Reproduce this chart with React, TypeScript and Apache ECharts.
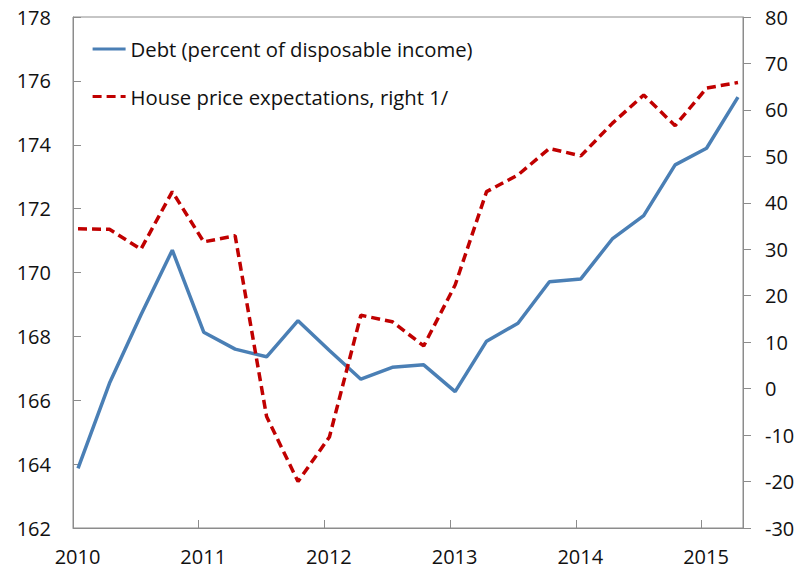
import React, { useEffect, useRef } from "react";
import * as echarts from "echarts";

const quarters = [
  "2010Q1","2010Q2","2010Q3","2010Q4",
  "2011Q1","2011Q2","2011Q3","2011Q4",
  "2012Q1","2012Q2","2012Q3","2012Q4",
  "2013Q1","2013Q2","2013Q3","2013Q4",
  "2014Q1","2014Q2","2014Q3","2014Q4",
  "2015Q1","2015Q2",
];
const debt = [
  163.87, 166.53, 168.67, 170.7,
  168.13, 167.6, 167.36, 168.49,
  167.56, 166.66, 167.03, 167.11,
  166.27, 167.85, 168.41, 169.71,
  169.8, 171.05, 171.78, 173.37,
  173.89, 175.49,
];
const housePrice = [
  34.4, 34.3, 30.0, 42.4,
  31.6, 32.9, -6.0, -20.0,
  -10.4, 15.8, 14.4, 9.2,
  22.3, 42.4, 46.0, 51.7,
  50.1, 57.1, 63.2, 56.6,
  64.7, 65.9,
];
const seriesNames = ["Debt (percent of disposable income)", "House price expectations, right 1/"];

// position of a quarter on the year axis (mid-first-month of quarter)
const qPos = (q: string) => {
  const y = parseInt(q.slice(0, 4), 10);
  const n = parseInt(q.slice(5), 10);
  return y + (n - 1) / 4 + 0.04;
};

const FONT = "Open Sans";
const AXIS_COLOR = "#8c8c8c";
const FS = 20;

export default function App() {
  const ref = useRef<HTMLDivElement>(null);
  useEffect(() => {
    if (!ref.current) return;
    const chart = echarts.init(ref.current, null, { renderer: "svg" });
    chart.setOption({
      animation: false,
      backgroundColor: "#ffffff",
      textStyle: { fontFamily: FONT },
      grid: {
        left: 73, right: 58, top: 17, bottom: 45,
        show: true, borderColor: AXIS_COLOR, borderWidth: 1,
      },
      legend: {
        orient: "vertical",
        left: 86, top: 34,
        itemWidth: 33, itemHeight: 20, itemGap: 27.5,
        itemStyle: { opacity: 0 },
        lineStyle: { width: 3.2 },
        textStyle: { fontFamily: FONT, fontSize: 20.3, color: "#111" },
        data: seriesNames,
      },
      xAxis: {
        type: "value",
        min: 2010, max: 2015.33, interval: 1,
        axisLine: { show: true, onZero: false, lineStyle: { color: AXIS_COLOR } },
        axisTick: { show: true, inside: true, length: 8, lineStyle: { color: AXIS_COLOR } },
        splitLine: { show: false },
        axisLabel: {
          showMaxLabel: false,
          margin: 18,
          padding: [0, 0, 0, 9],
          fontFamily: FONT, fontSize: FS, color: "#111",
          formatter: (v: number) => (Math.abs(v - Math.round(v)) < 1e-6 ? String(Math.round(v)) : ""),
        },
      },
      yAxis: [
        {
          type: "value", min: 162, max: 178, interval: 2,
          axisLine: { show: true, lineStyle: { color: AXIS_COLOR } },
          axisTick: { show: true, inside: true, length: 8, lineStyle: { color: AXIS_COLOR } },
          splitLine: { show: false },
          axisLabel: { margin: 22, fontFamily: FONT, fontSize: FS, color: "#111" },
        },
        {
          type: "value", min: -30, max: 80, interval: 10, position: "right",
          axisLine: { show: true, lineStyle: { color: AXIS_COLOR } },
          axisTick: { show: true, inside: false, length: 8, lineStyle: { color: AXIS_COLOR } },
          splitLine: { show: false },
          axisLabel: { margin: 22, fontFamily: FONT, fontSize: FS, color: "#111" },
        },
      ],
      series: [
        {
          name: seriesNames[0],
          type: "line",
          yAxisIndex: 0,
          symbol: "none",
          color: "#4a7fb5",
          lineStyle: { color: "#4a7fb5", width: 3.5 },
          data: quarters.map((q, i) => [qPos(q), debt[i]]),
        },
        {
          name: seriesNames[1],
          type: "line",
          yAxisIndex: 1,
          symbol: "none",
          color: "#c00000",
          lineStyle: { color: "#c00000", width: 3.5, type: [9, 5] },
          data: quarters.map((q, i) => [qPos(q), housePrice[i]]),
        },
      ],
    });
    return () => chart.dispose();
  }, []);
  return (
    <div
      ref={ref}
      style={{ position: "fixed", left: 0, top: 0, width: 801, height: 573, background: "#fff" }}
    />
  );
}
